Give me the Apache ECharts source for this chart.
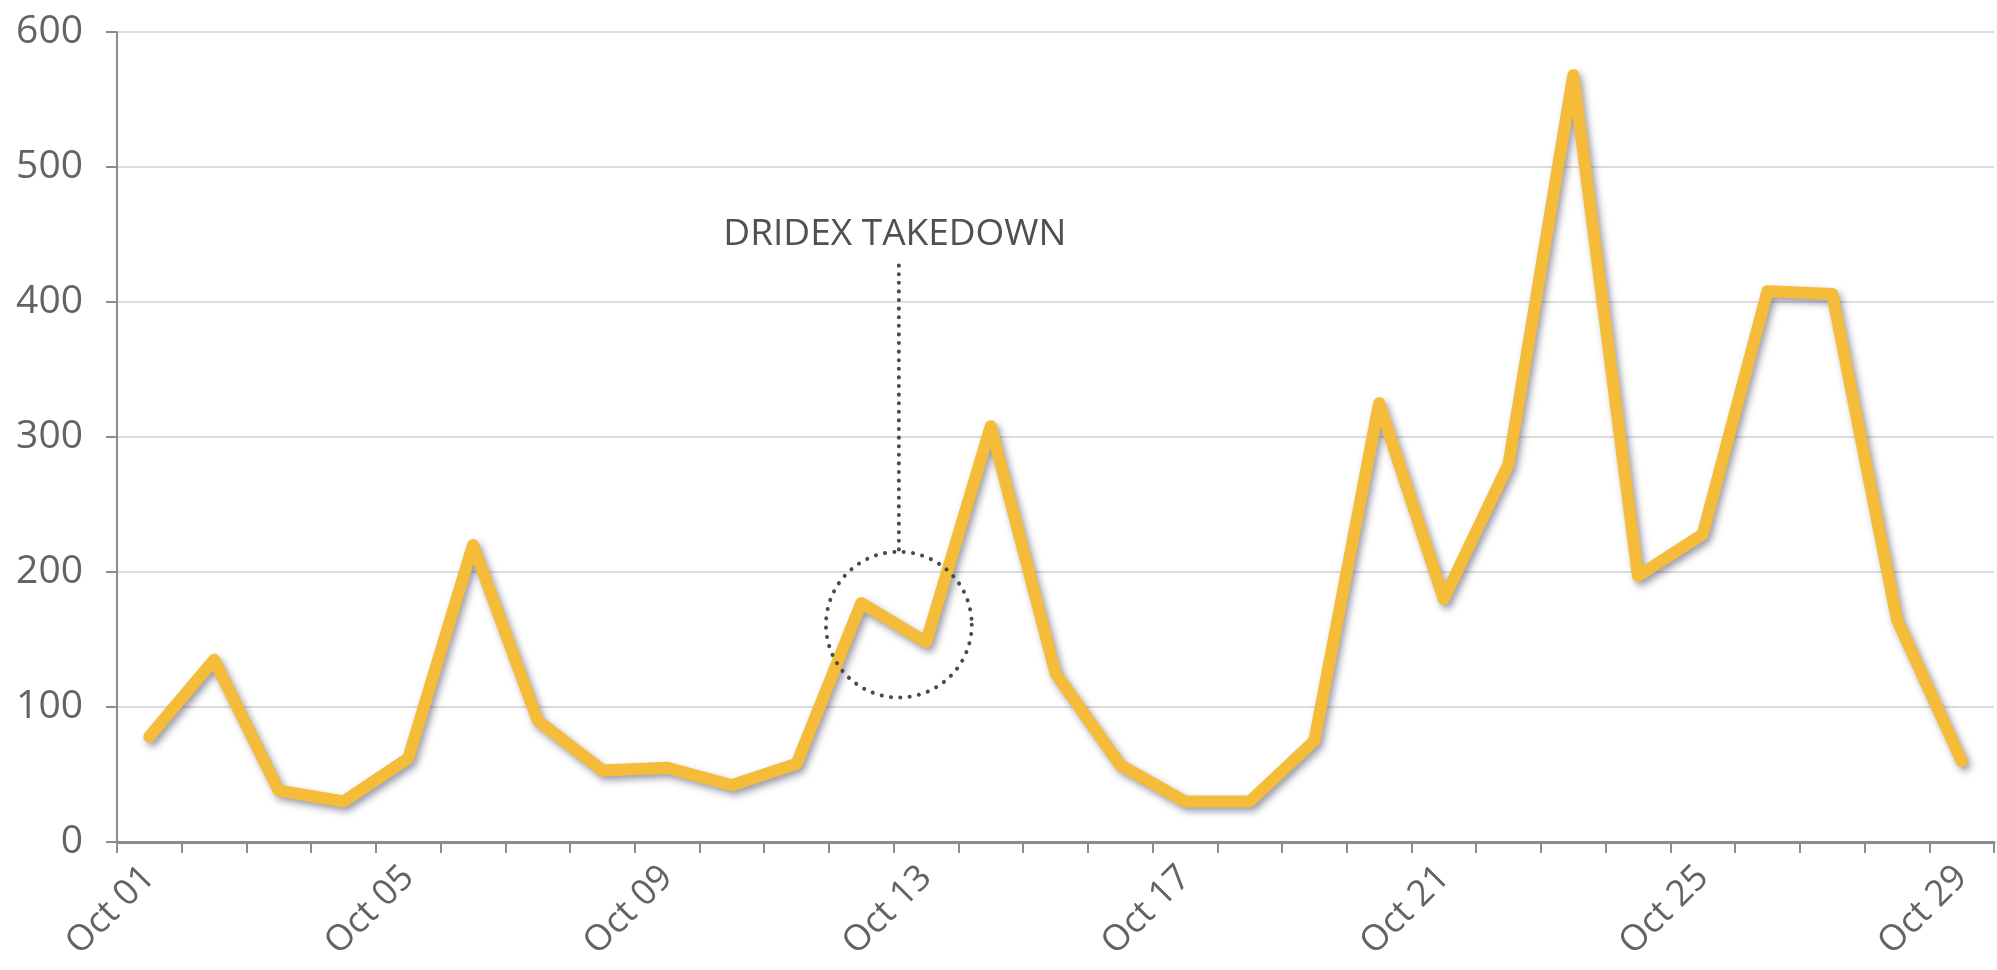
<!DOCTYPE html>
<html>
<head>
<meta charset="utf-8">
<script src="https://cdn.jsdelivr.net/npm/echarts@6/dist/echarts.min.js"></script>
<style>
html,body{margin:0;padding:0;background:#fff;}
#c{width:1997px;height:970px;}
</style>
</head>
<body>
<div id="c"></div>
<script>
var categories = ["Oct 01","Oct 02","Oct 03","Oct 04","Oct 05","Oct 06","Oct 07","Oct 08","Oct 09","Oct 10",
  "Oct 11","Oct 12","Oct 13","Oct 14","Oct 15","Oct 16","Oct 17","Oct 18","Oct 19","Oct 20",
  "Oct 21","Oct 22","Oct 23","Oct 24","Oct 25","Oct 26","Oct 27","Oct 28","Oct 29"];
var values = [78,135,38,30,62,220,90,53,55,42,58,177,148,308,125,57,30,30,75,325,180,280,568,197,228,408,406,165,60];
var yTicks = [0,100,200,300,400,500,600];

var annotationText = "DRIDEX TAKEDOWN";
var annotationFrom = 11, annotationTo = 12;   // circle between Oct 12 and Oct 13
var annotationFraction = 0.58;
var annotationCenterValue = 161;
var annotationRadiusValue = 54;
var annotationLineTopValue = 427;
var annotationTextValue = 450;

var chart = echarts.init(document.getElementById('c'), null, {renderer:'canvas'});
var font = "'Open Sans', 'Noto Sans', sans-serif";
chart.setOption({
  animation:false,
  backgroundColor:'#ffffff',
  grid:{left:117, right:3, top:32, bottom:128, containLabel:false},
  xAxis:{
    type:'category', data:categories, boundaryGap:true,
    axisLine:{lineStyle:{color:'#8c8c8c', width:3}},
    axisTick:{show:true, interval:0, length:11, lineStyle:{color:'#8c8c8c', width:2}},
    axisLabel:{interval:3, rotate:45, margin:30, color:'#636363', fontSize:36, fontFamily:font}
  },
  yAxis:{
    type:'value', min:yTicks[0], max:yTicks[yTicks.length-1], interval:100,
    axisLine:{show:true, lineStyle:{color:'#8c8c8c', width:2}},
    axisTick:{show:true, length:11, lineStyle:{color:'#8c8c8c', width:2}},
    axisLabel:{margin:34, color:'#636363', fontSize:39, fontFamily:font},
    splitLine:{lineStyle:{color:'#dcdcdc', width:2}}
  },
  series:[{
    type:'line', data:values, symbol:'none',
    lineStyle:{color:'#F4BC38', width:12, cap:'round', join:'round',
      shadowColor:'rgba(60,60,90,0.5)', shadowBlur:7, shadowOffsetX:3, shadowOffsetY:4}
  }]
});

var p1 = chart.convertToPixel({xAxisIndex:0, yAxisIndex:0}, [annotationFrom, annotationCenterValue]);
var p2 = chart.convertToPixel({xAxisIndex:0, yAxisIndex:0}, [annotationTo, annotationCenterValue]);
var cx = p1[0] + (p2[0]-p1[0])*annotationFraction, cy = p1[1];
var r = chart.convertToPixel({yAxisIndex:0}, 0) - chart.convertToPixel({yAxisIndex:0}, annotationRadiusValue);
var lineTop = chart.convertToPixel({yAxisIndex:0}, annotationLineTopValue);
var textY = chart.convertToPixel({yAxisIndex:0}, annotationTextValue);

chart.setOption({
  graphic:[
    {type:'circle', shape:{cx:cx, cy:cy, r:r}, z:10,
     style:{fill:null, stroke:'#4a4a4a', lineWidth:4, lineDash:[0.1,9.3], lineCap:'round'}},
    {type:'line', shape:{x1:cx, y1:lineTop, x2:cx, y2:cy-r}, z:10,
     style:{stroke:'#4a4a4a', lineWidth:4, lineDash:[0.1,8.5], lineCap:'round'}},
    {type:'text', x:cx-4, y:textY, z:10,
     style:{text:annotationText, fill:'#505050', font:'37px ' + font, textAlign:'center', textVerticalAlign:'middle'}}
  ]
});
</script>
</body>
</html>
